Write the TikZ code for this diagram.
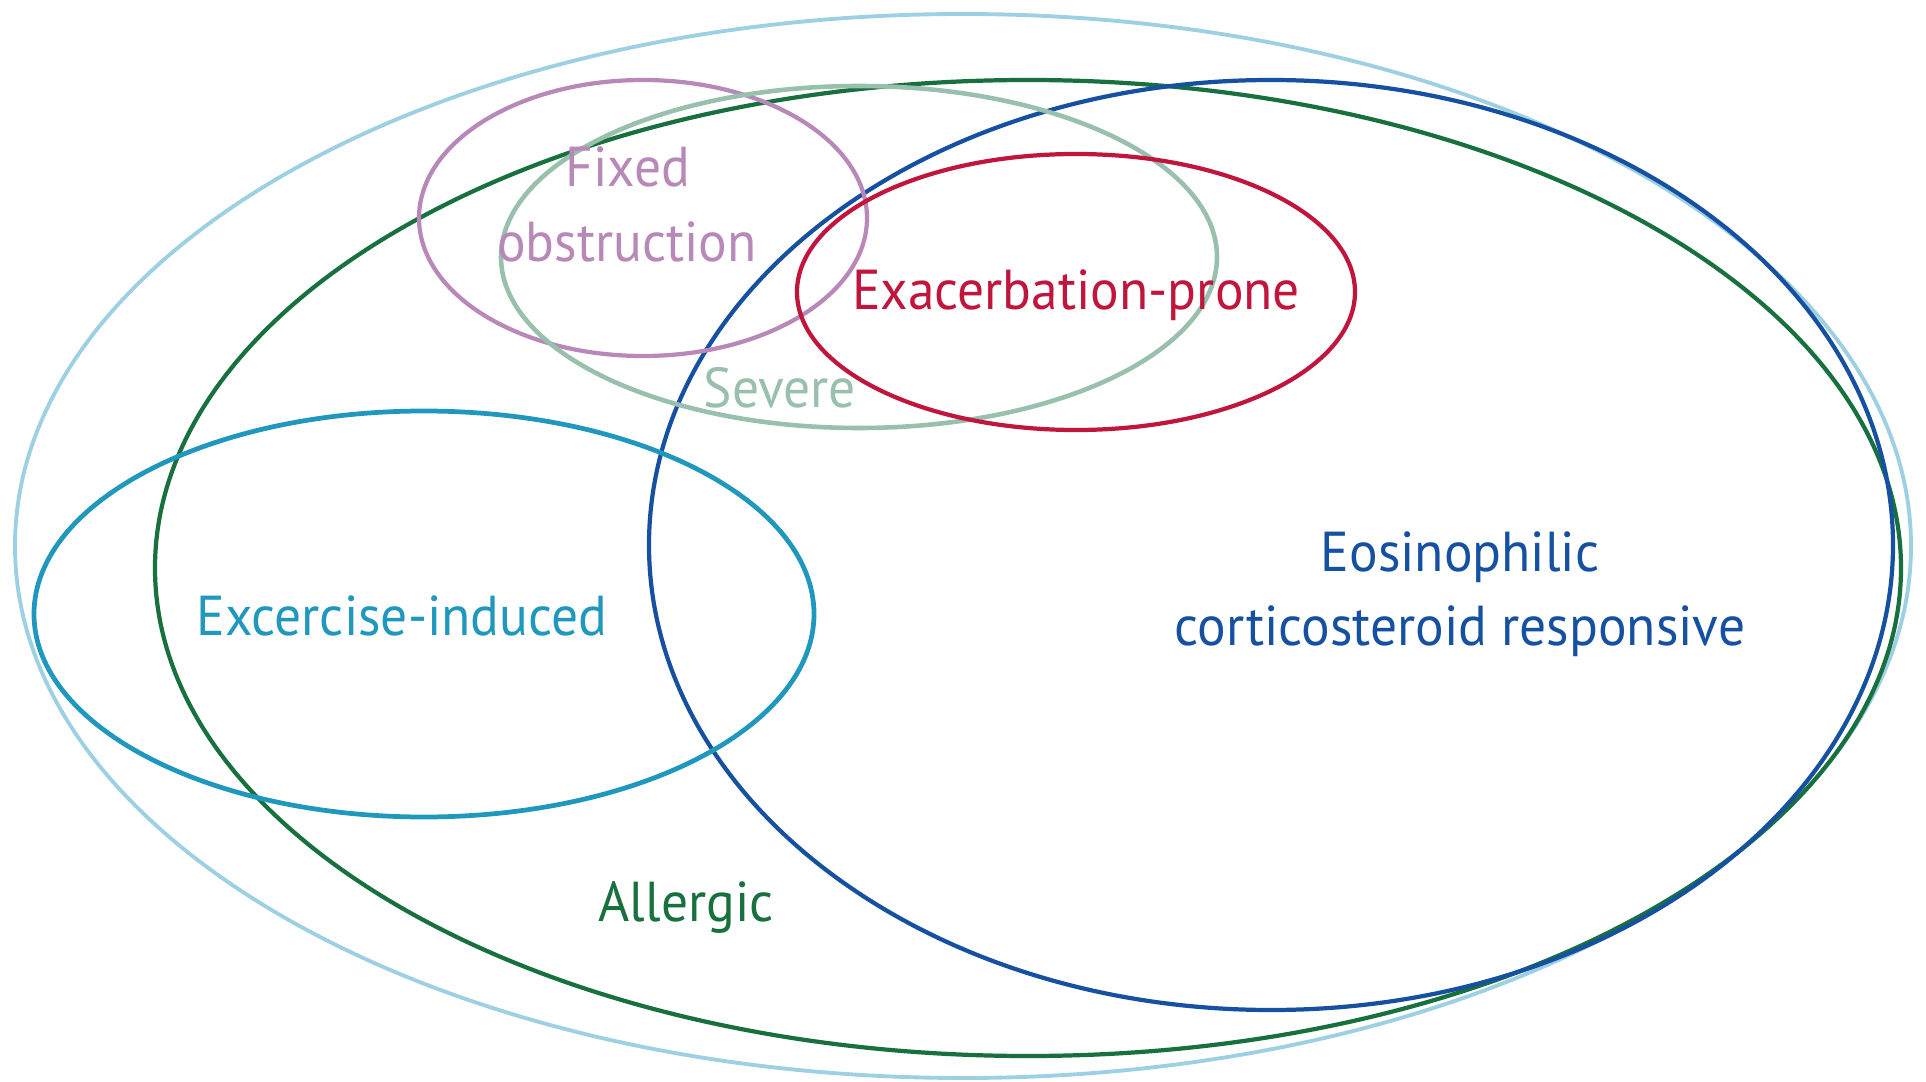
\documentclass[tikz,border=0pt]{standalone}
\usepackage{fontspec}
\setmainfont{PT Sans}[FakeStretch=0.95]
\definecolor{phskyblue}{RGB}{158,208,228}
\definecolor{phgreen}{RGB}{24,112,62}
\definecolor{phblue}{RGB}{22,80,160}
\definecolor{phcyan}{RGB}{32,152,190}
\definecolor{phmauve}{RGB}{184,136,184}
\definecolor{phsage}{RGB}{152,192,172}
\definecolor{phred}{RGB}{192,22,62}
\usetikzlibrary{positioning}

\begin{document}
\begin{tikzpicture}[
  x=0.01cm, y=-0.01cm,
  pheno/.style={line width=1.2pt},
  phlabel/.style={anchor=base, inner sep=0pt,
    font=\fontsize{16}{21}\selectfont}
]
\useasboundingbox (0,0) rectangle (1926,1082);

% sets, largest first
\draw[pheno, draw=phskyblue, line width=1.1pt] (963,546) ellipse [x radius=948, y radius=532];
\draw[pheno, draw=phgreen]   (1028,568) ellipse [x radius=873, y radius=488];
\draw[pheno, draw=phblue]    (1271,545) ellipse [x radius=622, y radius=465];
\draw[pheno, draw=phcyan, line width=1.35pt] (424,614) ellipse [x radius=390, y radius=203];
\draw[pheno, draw=phmauve]   (643,218) ellipse [x radius=224, y radius=138];
\draw[pheno, draw=phsage, line width=1.3pt] (859,257) ellipse [x radius=358, y radius=171];
\draw[pheno, draw=phred]     (1076,292) ellipse [x radius=279, y radius=138];

% labels
\node[phlabel, text=phmauve] (fixed)  at (628,187) {Fixed};
\node[phlabel, text=phmauve] (obstr)  at (627,262) {obstruction};
\node[phlabel, text=phred]   (exac)   at (1076,310) {Exacerbation-prone};
\node[phlabel, text=phsage]  (severe) at (780,408) {Severe};
\node[phlabel, text=phcyan]  (exerc)  at (402,636) {Excercise-induced};
\node[phlabel, text=phblue]  (eosin)  at (1460,571) {Eosinophilic};
\node[phlabel, text=phblue]  (cortic) at (1460,645) {corticosteroid responsive};
\node[phlabel, text=phgreen] (allerg) at (686,921) {Allergic};
\end{tikzpicture}
\end{document}
